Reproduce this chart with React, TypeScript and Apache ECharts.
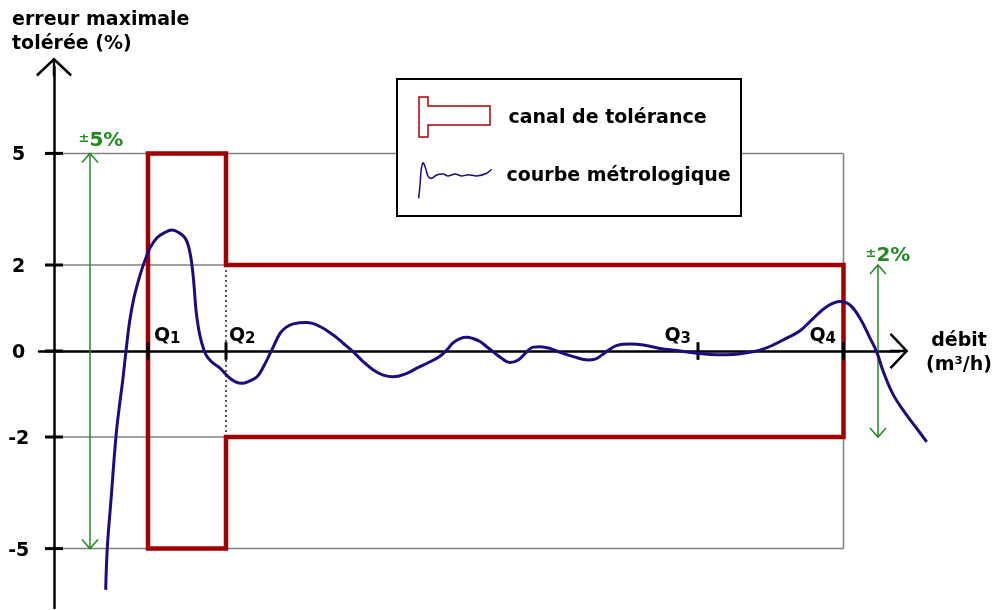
import { useEffect, useRef } from 'react';
import * as echarts from 'echarts';

// ---- data ----
const yTickValues = [5, 2, 0, -2, -5];
const qNames = ['1', '2', '3', '4'];
const qPositions = [9.4, 17.2, 64.4, 78.95];
const lowFlowTolerance = 5; // ±5 % between Q1 and Q2
const highFlowTolerance = 2; // ±2 % between Q2 and Q4
const frameLeft = 0.9;
const toleranceArrowX = [3.6, 82.4];
const toleranceArrowLimit = [5, 2];
const toleranceArrowLabel = ['5%', '2%'];

const curveX = [5.17, 5.33, 5.7, 6.2, 6.53, 6.88, 7.2, 7.55, 7.95, 8.4, 8.8, 9.15, 9.6, 10.3, 10.93, 11.8, 12.6, 13.1, 13.45, 13.77, 14.0, 14.2, 14.45, 14.75, 15.2, 15.8, 16.6, 17.43, 18.1, 18.8, 19.43, 20.3, 20.93, 21.77, 22.6, 23.2, 23.93, 25.27, 26.6, 27.93, 28.93, 29.93, 30.93, 31.93, 32.93, 33.93, 35.27, 36.27, 37.6, 38.6, 39.27, 39.9, 40.6, 41.27, 41.9, 42.6, 43.27, 43.93, 44.77, 45.6, 46.43, 47.27, 47.93, 48.6, 49.6, 50.6, 51.93, 53.43, 54.1, 54.8, 55.5, 56.3, 57.6, 58.93, 60.6, 62.27, 64.27, 66.27, 67.93, 69.27, 70.6, 71.93, 73.27, 74.6, 75.93, 77.27, 78.6, 79.6, 80.6, 81.6, 82.27, 82.93, 83.93, 85.27, 86.27, 87.27];
const curveY = [-6.11, -4.98, -3.69, -1.98, -1.3, -0.67, 0, 0.67, 1.19, 1.6, 1.91, 2.16, 2.46, 2.73, 2.85, 2.94, 2.85, 2.73, 2.51, 2.05, 1.53, 0.95, 0.53, 0.21, -0.09, -0.26, -0.4, -0.6, -0.71, -0.75, -0.71, -0.6, -0.37, 0.02, 0.41, 0.55, 0.63, 0.66, 0.57, 0.37, 0.18, -0.02, -0.25, -0.44, -0.56, -0.6, -0.52, -0.4, -0.25, -0.12, 0.02, 0.19, 0.29, 0.32, 0.29, 0.22, 0.1, -0.02, -0.17, -0.27, -0.21, -0.02, 0.09, 0.1, 0.06, -0.03, -0.13, -0.21, -0.19, -0.09, 0.03, 0.13, 0.16, 0.14, 0.06, 0.01, -0.05, -0.09, -0.08, -0.04, 0.02, 0.14, 0.3, 0.47, 0.76, 1.03, 1.15, 1.07, 0.76, 0.3, -0.02, -0.48, -1.02, -1.49, -1.8, -2.13];

// piecewise (schematic) vertical scale
const toDisplay = (v: number) => {
  const a = Math.abs(v);
  const d = a <= 2 ? a * 43 : 86 + (a - 2) * 37.2;
  return v < 0 ? -d : d;
};

const FONT = 'DejaVu Sans';
const RED = '#a00000';
const NAVY = '#200a80';
const GREEN = '#228b22';
const GRAY = '#808080';
const CHEVRON = 'path://M0,17L18,0L36,17L34.3,18.8L18,3.4L1.7,18.8Z M16.8,1.5L19.2,1.5L19.2,18.8L16.8,18.8Z';
const X_MIN = -1.5;
const Y_MIN = -257;
const Y_MAX = 284;

function segSeries(name: string, segs: number[][], style: any, z: number) {
  return {
    type: 'custom',
    name,
    z,
    silent: true,
    clip: false,
    data: segs,
    renderItem: (_p: any, api: any) => {
      const p1 = api.coord([api.value(0), api.value(1)]);
      const p2 = api.coord([api.value(2), api.value(3)]);
      return { type: 'line', shape: { x1: p1[0], y1: p1[1], x2: p2[0], y2: p2[1] }, style };
    },
  };
}

export default function App() {
  const ref = useRef<HTMLDivElement>(null);
  useEffect(() => {
    if (!ref.current) return;
    const chart = echarts.init(ref.current, undefined, { renderer: 'svg' });
    const [Q1, Q2, , Q4] = qPositions;

    const frameSegs: number[][] = yTickValues
      .filter((v) => v !== 0)
      .map((v) => [frameLeft, toDisplay(v), Q4, toDisplay(v)]);
    frameSegs.push([Q4, toDisplay(lowFlowTolerance), Q4, toDisplay(-lowFlowTolerance)]);

    const channel = [
      [Q1, -lowFlowTolerance], [Q1, lowFlowTolerance], [Q2, lowFlowTolerance], [Q2, highFlowTolerance],
      [Q4, highFlowTolerance], [Q4, -highFlowTolerance], [Q2, -highFlowTolerance], [Q2, -lowFlowTolerance],
      [Q1, -lowFlowTolerance],
    ].map(([x, y]) => [x, toDisplay(y)]);

    const qLabelLayout = [
      { dx: 6, align: 'left' },
      { dx: 3, align: 'left' },
      { dx: -7, align: 'right' },
      { dx: -7.5, align: 'right' },
    ];
    const greenLayout = [
      { dx: -11.5, dy: -14.2 },
      { dx: -12.5, dy: -10.9 },
    ];

    chart.setOption({
      animation: false,
      textStyle: { fontFamily: FONT },
      title: {
        text: 'erreur maximale\ntolérée (%)',
        left: 12,
        top: 6,
        padding: 0,
        textStyle: { fontFamily: FONT, fontSize: 19, fontWeight: 'bold', color: '#000', lineHeight: 24 },
      },
      grid: [
        { left: 39, right: 96, top: 67, bottom: 2, containLabel: false, outerBoundsMode: 'none' },
        { left: 39, right: 45, top: 67, bottom: 2, containLabel: false, outerBoundsMode: 'none' },
      ],
      xAxis: [
        {
          type: 'value',
          gridIndex: 0,
          min: X_MIN,
          max: 84.5,
          z: 3,
          name: 'débit\n(m³/h)',
          nameLocation: 'end',
          nameGap: 60,
          nameTextStyle: { fontFamily: FONT, fontSize: 19, fontWeight: 'bold', color: '#000', align: 'center', verticalAlign: 'middle', lineHeight: 23.5 },
          axisLine: {
            onZero: true,
            symbol: ['none', CHEVRON],
            symbolSize: [36, 19],
            lineStyle: { color: '#000', width: 2.5 },
          },
          axisTick: { show: false },
          axisLabel: { show: false },
          splitLine: { show: false },
        },
        { type: 'value', gridIndex: 1, min: X_MIN, max: 89.6, show: false },
      ],
      yAxis: [
        {
          type: 'value',
          gridIndex: 0,
          min: Y_MIN,
          max: Y_MAX,
          z: 3,
          axisLine: {
            onZero: true,
            symbol: ['none', CHEVRON],
            symbolSize: [36, 19],
            lineStyle: { color: '#000', width: 2.5 },
          },
          axisTick: { show: false },
          splitLine: { show: false },
          axisLabel: { show: false },
        },
        { type: 'value', gridIndex: 1, min: Y_MIN, max: Y_MAX, show: false },
      ],
      graphic: [
        { type: 'rect', z: 100, shape: { x: 397, y: 79, width: 344, height: 137 }, style: { fill: '#fff', stroke: '#000', lineWidth: 2 } },
        {
          type: 'polygon', z: 101,
          shape: { points: [[419, 97], [428, 97], [428, 106], [490, 106], [490, 125], [428, 125], [428, 137], [419, 137]] },
          style: { fill: '#fff', stroke: '#b00000', lineWidth: 1.5 },
        },
        {
          type: 'polyline', z: 101,
          shape: {
            points: [[418.7, 198.3], [420, 185], [421.2, 170], [423, 162.7], [425.5, 168], [428.3, 176.7], [431.7, 178.3], [436.7, 175], [443.3, 174], [448, 176], [455, 174], [461.7, 176], [468, 174.7], [476.7, 176], [486.7, 173.3], [491.7, 169.3]],
            smooth: 0.3,
          },
          style: { fill: 'none', stroke: NAVY, lineWidth: 1.5 },
        },
        { type: 'text', z: 101, x: 508.5, y: 115.7, style: { text: 'canal de tolérance', fontFamily: FONT, fontSize: 19, fontWeight: 'bold', fill: '#000', align: 'left', verticalAlign: 'middle' } },
        { type: 'text', z: 101, x: 506.5, y: 174, style: { text: 'courbe métrologique', fontFamily: FONT, fontSize: 19, fontWeight: 'bold', fill: '#000', align: 'left', verticalAlign: 'middle' } },
      ],
      series: [
        segSeries('cadre', frameSegs, { stroke: GRAY, lineWidth: 1.5 }, 1),
        segSeries('Q2 pointillé', [[Q2, toDisplay(highFlowTolerance), Q2, toDisplay(-highFlowTolerance)]], { stroke: '#000', lineWidth: 1.3, lineDash: [2, 3] }, 2),
        {
          type: 'line',
          name: 'canal de tolérance',
          z: 2,
          silent: true,
          clip: false,
          showSymbol: false,
          data: channel,
          lineStyle: { color: RED, width: 4.5, cap: 'square', join: 'miter' },
        },
        {
          type: 'custom',
          name: 'graduations y',
          z: 4,
          silent: true,
          clip: false,
          data: yTickValues.map((v) => [0, toDisplay(v), v]),
          renderItem: (_p: any, api: any) => {
            const d = api.value(1);
            const a = api.coord([-0.9, d]);
            const b = api.coord([frameLeft, d]);
            const t = api.coord([-3.53, d]);
            return {
              type: 'group',
              children: [
                { type: 'line', shape: { x1: a[0], y1: a[1], x2: b[0], y2: b[1] }, style: { stroke: '#000', lineWidth: 3 } },
                { type: 'text', x: t[0], y: t[1], style: { text: String(api.value(2)), fontFamily: FONT, fontSize: 19, fontWeight: 'bold', fill: '#000', align: 'center', verticalAlign: 'middle' } },
              ],
            };
          },
        },
        {
          type: 'custom',
          name: 'Q',
          z: 4,
          silent: true,
          clip: false,
          data: qPositions.map((q, i) => [q, 0, i]),
          renderItem: (_p: any, api: any) => {
            const i = api.value(2);
            const q = api.value(0);
            const a = api.coord([q, 8.8]);
            const b = api.coord([q, -8.8]);
            const c = api.coord([q, 0]);
            const L = qLabelLayout[i];
            const x0 = c[0] + L.dx;
            const qY = c[1] - 17.5;
            const sY = c[1] - 12.7;
            const qStyle = { text: 'Q', fontFamily: FONT, fontSize: 19, fontWeight: 'bold', fill: '#000', verticalAlign: 'middle' };
            const sStyle = { text: qNames[i], fontFamily: FONT, fontSize: 15, fontWeight: 'bold', fill: '#000', verticalAlign: 'middle' };
            const children: any[] = [
              { type: 'line', shape: { x1: a[0], y1: a[1], x2: b[0], y2: b[1] }, style: { stroke: '#000', lineWidth: 3 } },
            ];
            if (L.align === 'left') {
              children.push({ type: 'text', x: x0, y: qY, style: { ...qStyle, align: 'left' } });
              children.push({ type: 'text', x: x0 + 16, y: sY, style: { ...sStyle, align: 'left' } });
            } else {
              children.push({ type: 'text', x: x0, y: sY, style: { ...sStyle, align: 'right' } });
              children.push({ type: 'text', x: x0 - 10.4, y: qY, style: { ...qStyle, align: 'right' } });
            }
            return { type: 'group', children };
          },
        },
        {
          type: 'custom',
          name: 'tolérances',
          z: 4,
          silent: true,
          clip: false,
          data: toleranceArrowX.map((x, i) => [x, toDisplay(toleranceArrowLimit[i]), toDisplay(-toleranceArrowLimit[i]), i]),
          renderItem: (_p: any, api: any) => {
            const i = api.value(3);
            const top = api.coord([api.value(0), api.value(1)]);
            const bot = api.coord([api.value(0), api.value(2)]);
            const G = greenLayout[i];
            const st = { stroke: GREEN, lineWidth: 1.5, fill: 'none' };
            return {
              type: 'group',
              children: [
                { type: 'line', shape: { x1: top[0], y1: top[1], x2: bot[0], y2: bot[1] }, style: st },
                { type: 'polyline', shape: { points: [[top[0] - 8, top[1] + 9], [top[0], top[1]], [top[0] + 8, top[1] + 9]] }, style: st },
                { type: 'polyline', shape: { points: [[bot[0] - 8, bot[1] - 9], [bot[0], bot[1]], [bot[0] + 8, bot[1] - 9]] }, style: st },
                {
                  type: 'text',
                  x: top[0] + G.dx,
                  y: top[1] + G.dy,
                  style: {
                    text: '{pm|±}{v|' + toleranceArrowLabel[i] + '}',
                    align: 'left',
                    verticalAlign: 'middle',
                    rich: {
                      pm: { fontFamily: FONT, fontSize: 13, fontWeight: 'bold', fill: GREEN, color: GREEN, verticalAlign: 'middle', padding: [0, 0, 3, 0] },
                      v: { fontFamily: FONT, fontSize: 20, fontWeight: 'bold', fill: GREEN, color: GREEN, lineHeight: 24, verticalAlign: 'middle' },
                    },
                  },
                },
              ],
            };
          },
        },
        {
          type: 'line',
          name: 'courbe métrologique',
          xAxisIndex: 1,
          yAxisIndex: 1,
          z: 5,
          silent: true,
          smooth: 0.4,
          showSymbol: false,
          data: curveX.map((x, i) => [x, toDisplay(curveY[i])]),
          lineStyle: { color: NAVY, width: 3 },
        },
      ],
    });
    return () => chart.dispose();
  }, []);
  return <div ref={ref} style={{ position: 'fixed', left: 0, top: 0, width: 995, height: 610 }} />;
}
